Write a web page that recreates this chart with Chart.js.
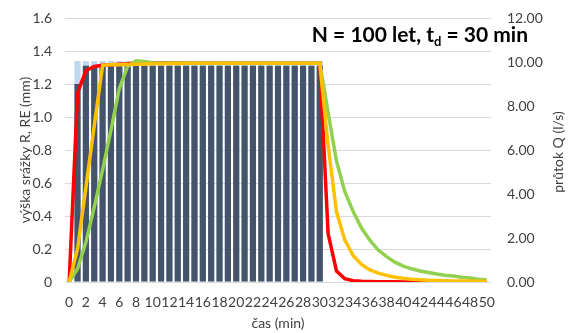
<!DOCTYPE html>
<html><head><meta charset="utf-8">
<script src="https://cdn.jsdelivr.net/npm/chart.js@4/dist/chart.umd.min.js"></script>
<style>html,body{margin:0;padding:0;background:#fff}#wrap{width:570px;height:333px;position:relative}</style>
</head><body><div id="wrap"><canvas id="c" width="570" height="333"></canvas></div>
<script>
const minutes = [0,1,2,3,4,5,6,7,8,9,10,11,12,13,14,15,16,17,18,19,20,21,22,23,24,25,26,27,28,29,30,31,32,33,34,35,36,37,38,39,40,41,42,43,44,45,46,47,48,49,50];
const leftTicks = [0,0.2,0.4,0.6,0.8,1,1.2,1.4,1.6];
const rightTicks = [0,2,4,6,8,10,12];
// rainfall R (light blue) and effective rainfall RE (dark), mm per minute
const rainR = [null,1.34,1.34,1.34,1.34,1.34,1.34,1.34,1.34,1.34,1.34,1.34,1.34,1.34,1.34,1.34,1.34,1.34,1.34,1.34,1.34,1.34,1.34,1.34,1.34,1.34,1.34,1.34,1.34,1.34,1.34,null,null,null,null,null,null,null,null,null,null,null,null,null,null,null,null,null,null,null,null];
const rainRE = [null,1.20,1.31,1.31,1.31,1.31,1.31,1.31,1.31,1.31,1.31,1.31,1.31,1.31,1.31,1.31,1.31,1.31,1.31,1.31,1.31,1.31,1.31,1.31,1.31,1.31,1.31,1.31,1.31,1.31,1.31,null,null,null,null,null,null,null,null,null,null,null,null,null,null,null,null,null,null,null,null];
// discharge Q (l/s)
const qRed = [0,8.6,9.6,9.8,9.85,9.88,9.9,9.92,9.95,9.97,9.97,9.97,9.97,9.96,9.96,9.96,9.95,9.95,9.95,9.95,9.95,9.95,9.95,9.95,9.95,9.95,9.95,9.95,9.95,9.95,9.95,2.2,0.5,0.15,0.06,0.03,0.02,0.01,0.01,0.01,0,0,0,0,0,0,0,0,0,0,0];
const qYellow = [0,1.5,4.3,7.1,9.85,9.87,9.88,9.89,9.9,9.91,9.92,9.92,9.93,9.93,9.94,9.94,9.94,9.94,9.94,9.94,9.94,9.94,9.94,9.94,9.94,9.94,9.94,9.94,9.94,9.94,9.94,6.2,3.2,1.9,1.2,0.8,0.55,0.4,0.3,0.22,0.17,0.13,0.1,0.08,0.07,0.06,0.05,0.04,0.04,0.03,0.03];
const qGreen = [0,0.6,1.8,3.4,5.1,6.9,8.8,9.8,10.05,10.02,9.97,9.95,9.95,9.95,9.95,9.95,9.95,9.95,9.95,9.95,9.95,9.95,9.95,9.95,9.95,9.95,9.95,9.95,9.95,9.95,9.95,7.7,5.5,4.1,3.2,2.45,1.9,1.45,1.15,0.9,0.72,0.6,0.5,0.43,0.36,0.31,0.27,0.22,0.18,0.13,0.09];
const titleParts = ['N = 100 let, t', 'd', ' = 30 min'];
const leftTitle = 'výška srážky R, RE (mm)';
const rightTitle = 'průtok Q (l/s)';
const xTitle = 'čas (min)';

Chart.defaults.font.family = 'Lato';
Chart.defaults.font.size = 14;
Chart.defaults.color = '#404040';

const textPlugin = {
  id: 'customTexts',
  afterDraw(chart) {
    const ctx = chart.ctx;
    ctx.save();
    ctx.fillStyle = '#000';
    ctx.textBaseline = 'alphabetic';
    ctx.textAlign = 'left';
    const big = 'bold 21px Lato', small = 'bold 13px Lato';
    ctx.font = big;
    const w1 = ctx.measureText(titleParts[0]).width;
    const w3 = ctx.measureText(titleParts[2]).width;
    ctx.font = small;
    const w2 = ctx.measureText(titleParts[1]).width;
    let x = 528 - (w1 + w2 + w3);
    ctx.font = big; ctx.fillText(titleParts[0], x, 42); x += w1;
    ctx.font = small; ctx.fillText(titleParts[1], x, 46); x += w2;
    ctx.font = big; ctx.fillText(titleParts[2], x, 42);
    ctx.font = '14px Lato';
    ctx.fillStyle = '#404040';
    ctx.translate(558, 152);
    ctx.rotate(-Math.PI / 2);
    ctx.textAlign = 'center';
    ctx.textBaseline = 'middle';
    ctx.fillText(rightTitle, 0, 0);
    ctx.restore();
  }
};

new Chart(document.getElementById('c'), {
  data: {
    labels: minutes,
    datasets: [
      {type: 'line', label: 'Q3', data: qYellow, yAxisID: 'y2', borderColor: '#FFC000', borderWidth: 3.5, pointRadius: 0, tension: 0, order: 0},
      {type: 'line', label: 'Q2', data: qGreen, yAxisID: 'y2', borderColor: '#92D050', borderWidth: 3.5, pointRadius: 0, tension: 0, order: 1},
      {type: 'line', label: 'Q1', data: qRed, yAxisID: 'y2', borderColor: '#FF0000', borderWidth: 3.5, pointRadius: 0, tension: 0, order: 2},
      {type: 'bar', label: 'RE', data: rainRE, yAxisID: 'y', backgroundColor: '#44546A', barPercentage: 0.74, categoryPercentage: 1, order: 3},
      {type: 'bar', label: 'R', data: rainR, yAxisID: 'y', backgroundColor: '#BDD7EE', barPercentage: 0.74, categoryPercentage: 1, order: 4}
    ]
  },
  options: {
    responsive: false,
    animation: false,
    devicePixelRatio: 1,
    layout: {padding: {top: 18, left: 0, right: 0, bottom: 0}},
    plugins: {legend: {display: false}, tooltip: {enabled: false}, title: {display: false}},
    scales: {
      x: {
        type: 'category', stacked: true, offset: true,
        grid: {display: false, drawTicks: false}, border: {display: false},
        ticks: {autoSkip: false, maxRotation: 0, minRotation: 0, padding: 12,
          callback: (v, i) => (minutes[i] % 2 === 0 ? String(minutes[i]) : '')},
        title: {display: true, text: xTitle, padding: {top: 0, bottom: 1}},
        afterFit: s => { s.height = 51; s.paddingLeft = 0; s.paddingRight = 0; }
      },
      y: {
        position: 'left', stacked: false,
        min: leftTicks[0], max: leftTicks[leftTicks.length - 1],
        afterBuildTicks: s => { s.ticks = leftTicks.map(v => ({value: v})); },
        grid: {color: '#D9D9D9', lineWidth: 1, drawTicks: false}, border: {display: false},
        ticks: {padding: 13},
        title: {display: true, text: leftTitle, padding: {top: 17, bottom: 0}},
        afterFit: s => { s.width = 65; s.paddingTop = 0; s.paddingBottom = 0; }
      },
      y2: {
        position: 'right',
        min: rightTicks[0], max: rightTicks[rightTicks.length - 1],
        afterBuildTicks: s => { s.ticks = rightTicks.map(v => ({value: v})); },
        grid: {display: false, drawTicks: false}, border: {display: false},
        ticks: {padding: 16, callback: v => Number(v).toFixed(2)},
        afterFit: s => { s.width = 79; s.paddingTop = 0; s.paddingBottom = 0; }
      }
    }
  },
  plugins: [textPlugin]
});
</script>
</body></html>
